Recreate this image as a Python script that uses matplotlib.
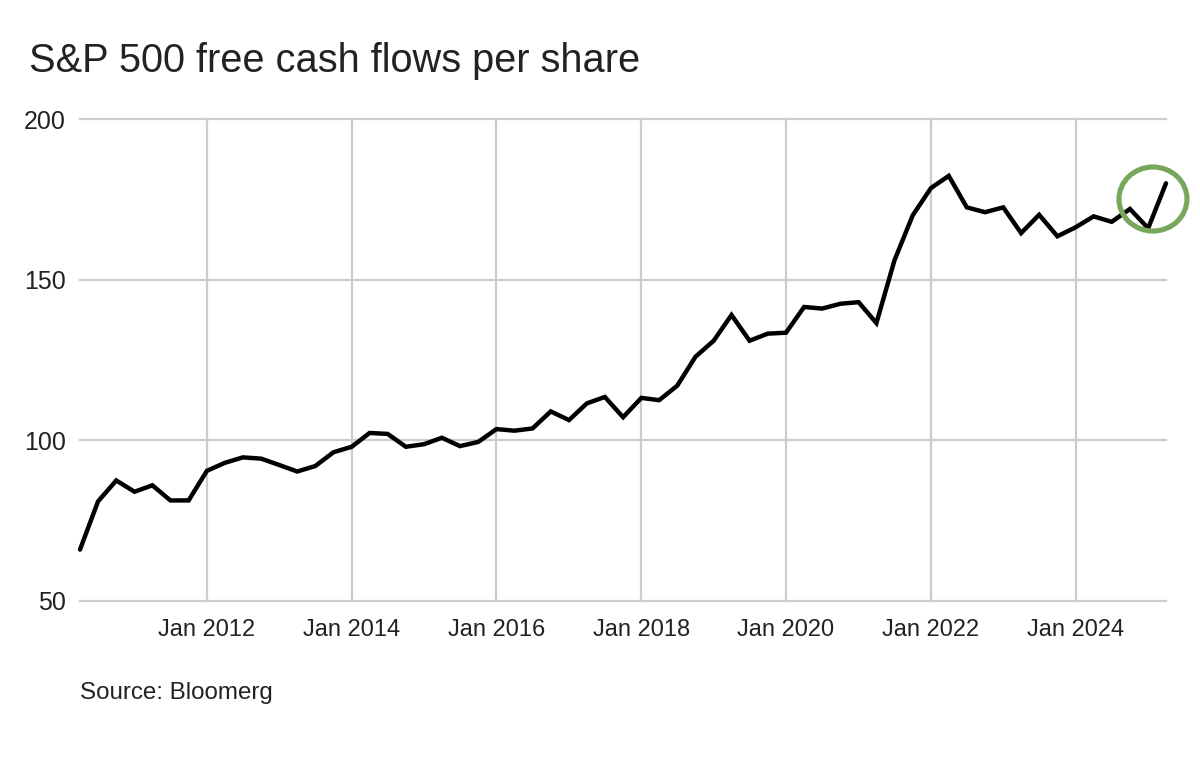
import matplotlib
matplotlib.use("Agg")
import matplotlib.pyplot as plt
from matplotlib.patches import Ellipse
import pandas as pd

W, H = 1200, 759
plt.rcParams['font.family'] = ['Liberation Sans', 'DejaVu Sans']

title = "S&P 500 free cash flows per share"
source = "Source: Bloomerg"
start_date = "2010-04-01"
values = [66, 81, 87.5, 84, 86, 81.3, 81.3,
          90.5, 93, 94.7, 94.3, 92.3, 90.3, 92, 96.3,
          98, 102.3, 102, 98, 98.8, 100.8, 98.2, 99.5,
          103.5, 103, 103.7, 109, 106.3, 111.5, 113.5, 107.2,
          113.2, 112.5, 117, 126, 131, 139, 131, 133.2,
          133.5, 141.5, 141, 142.5, 143, 136.5, 156, 170,
          178.5, 182.3, 172.5, 171, 172.5, 164.5, 170.2, 163.5,
          166.3, 169.7, 168, 172, 166, 180]
y_ticks = [50, 100, 150, 200]
x_tick_dates = ["2012-01-01", "2014-01-01", "2016-01-01", "2018-01-01",
                "2020-01-01", "2022-01-01", "2024-01-01"]
x_tick_labels = ["Jan 2012", "Jan 2014", "Jan 2016", "Jan 2018",
                 "Jan 2020", "Jan 2022", "Jan 2024"]

dates = pd.date_range(start_date, periods=len(values), freq="QS")

fig = plt.figure(figsize=(W / 100, H / 100), dpi=100, facecolor="white")
ax = fig.add_axes([80 / W, 1 - 601 / H, (1166 - 80) / W, (601 - 119) / H])
ax.plot(dates, values, color="black", lw=3.2, solid_joinstyle="miter",
        solid_capstyle="round", zorder=3, clip_on=False)
ax.set_xlim(dates[0], dates[-1])
ax.set_ylim(50, 200)
ax.set_yticks(y_ticks)
ax.set_xticks(pd.to_datetime(x_tick_dates))
ax.set_xticklabels(x_tick_labels)
ax.grid(True, color="#cccccc", lw=1.6, zorder=1, clip_on=False)
ax.set_axisbelow(True)
for s in ax.spines.values():
    s.set_visible(False)
ax.tick_params(length=0, labelcolor="#222222")
ax.tick_params(axis="x", pad=13, labelsize=17)
ax.tick_params(axis="y", pad=10, labelsize=18)

ax.add_artist(Ellipse((0.988, 0.834), width=68 / (1166 - 80), height=64 / (601 - 119),
                      transform=ax.transAxes, fill=False, edgecolor="#76a75a", lw=3.7,
                      clip_on=False, zorder=4))

fig.text(29 / W, 1 - 61 / H, title, fontsize=28.6, color="#222222", va="center", ha="left")
fig.text(80 / W, 1 - 693 / H, source, fontsize=17.4, color="#222222", va="center", ha="left")

fig.savefig("out.png", dpi=100, facecolor="white")
